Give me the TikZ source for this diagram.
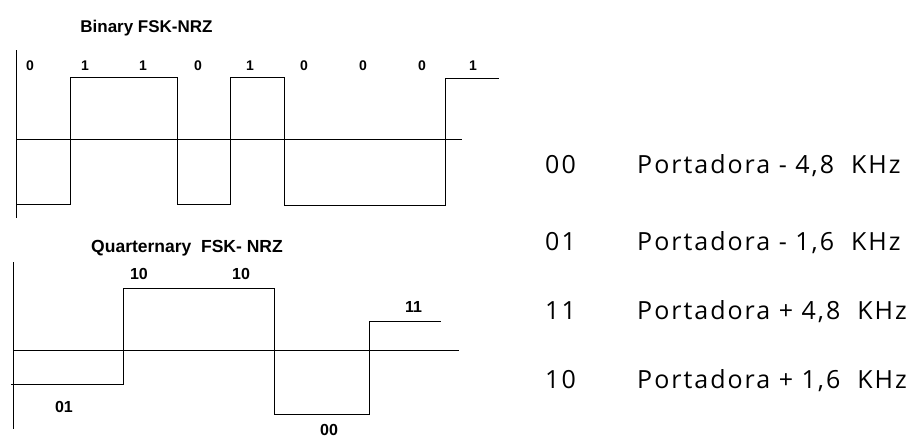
\documentclass[tikz,border=0pt]{standalone}
\usepackage{fontspec}
\setmainfont{Liberation Sans}
\newfontfamily\rightfont[LetterSpace=8]{Open Sans}
\begin{document}
\begin{tikzpicture}[x=1pt,y=-1pt,
  sig/.style={line width=0.9pt, line join=miter},
  axis/.style={line width=0.9pt},
  bit/.style={font=\fontsize{14}{16}\selectfont\bfseries, inner sep=0},
  qbit/.style={font=\fontsize{16}{18}\selectfont\bfseries, inner sep=0},
  ttl/.style={font=\fontsize{17}{19}\selectfont\bfseries, inner sep=0},
  qttl/.style={font=\fontsize{17.5}{19}\selectfont\bfseries, inner sep=0},
  rt/.style={font=\rightfont\fontsize{25}{27}\selectfont, inner sep=0, anchor=base west}]
\useasboundingbox (0,0) rectangle (920,439);
% Binary FSK-NRZ
\node[ttl] (bt) at (146.5,28) {Binary FSK-NRZ};
\draw[axis] (16,50) -- (16,218);
\draw[axis] (16,139) -- (462,139);
\draw[sig] (16,204) -- (70,204) -- (70,77) -- (177,77) -- (177,204) -- (230,204) -- (230,77) -- (284,77) -- (284,205) -- (445,205) -- (445,78) -- (499,78);
\node[bit] (b1) at (30,66) {0};
\node[bit] (b2) at (85,66) {1};
\node[bit] (b3) at (143,66) {1};
\node[bit] (b4) at (198,66) {0};
\node[bit] (b5) at (250,66) {1};
\node[bit] (b6) at (304,66) {0};
\node[bit] (b7) at (363,66) {0};
\node[bit] (b8) at (422,66) {0};
\node[bit] (b9) at (473,66) {1};
% Quarternary FSK-NRZ
\node[qttl] (qt) at (187,248) {Quarternary\ \ FSK- NRZ};
\draw[axis] (13,262) -- (13,429);
\draw[axis] (13,350) -- (459,350);
\draw[sig] (11,384) -- (123,384) -- (123,288) -- (274,288) -- (274,414) -- (369,414) -- (369,321) -- (441,321);
\node[qbit] (q1) at (64,407) {01};
\node[qbit] (q2) at (139,274) {10};
\node[qbit] (q3) at (241,274) {10};
\node[qbit] (q4) at (329,430) {00};
\node[qbit] (q5) at (413.5,307) {11};
% Table
\node[rt] (c1) at (545,173) {00};
\node[rt] (d1) at (637,173) {Portadora - 4,8\ \ KHz};
\node[rt] (c2) at (545,250) {01};
\node[rt] (d2) at (637,250) {Portadora - 1,6\ \ KHz};
\node[rt] (c3) at (545,319) {11};
\node[rt] (d3) at (637,319) {Portadora + 4,8\ \ KHz};
\node[rt] (c4) at (545,388) {10};
\node[rt] (d4) at (637,388) {Portadora + 1,6\ \ KHz};
\end{tikzpicture}
\end{document}
